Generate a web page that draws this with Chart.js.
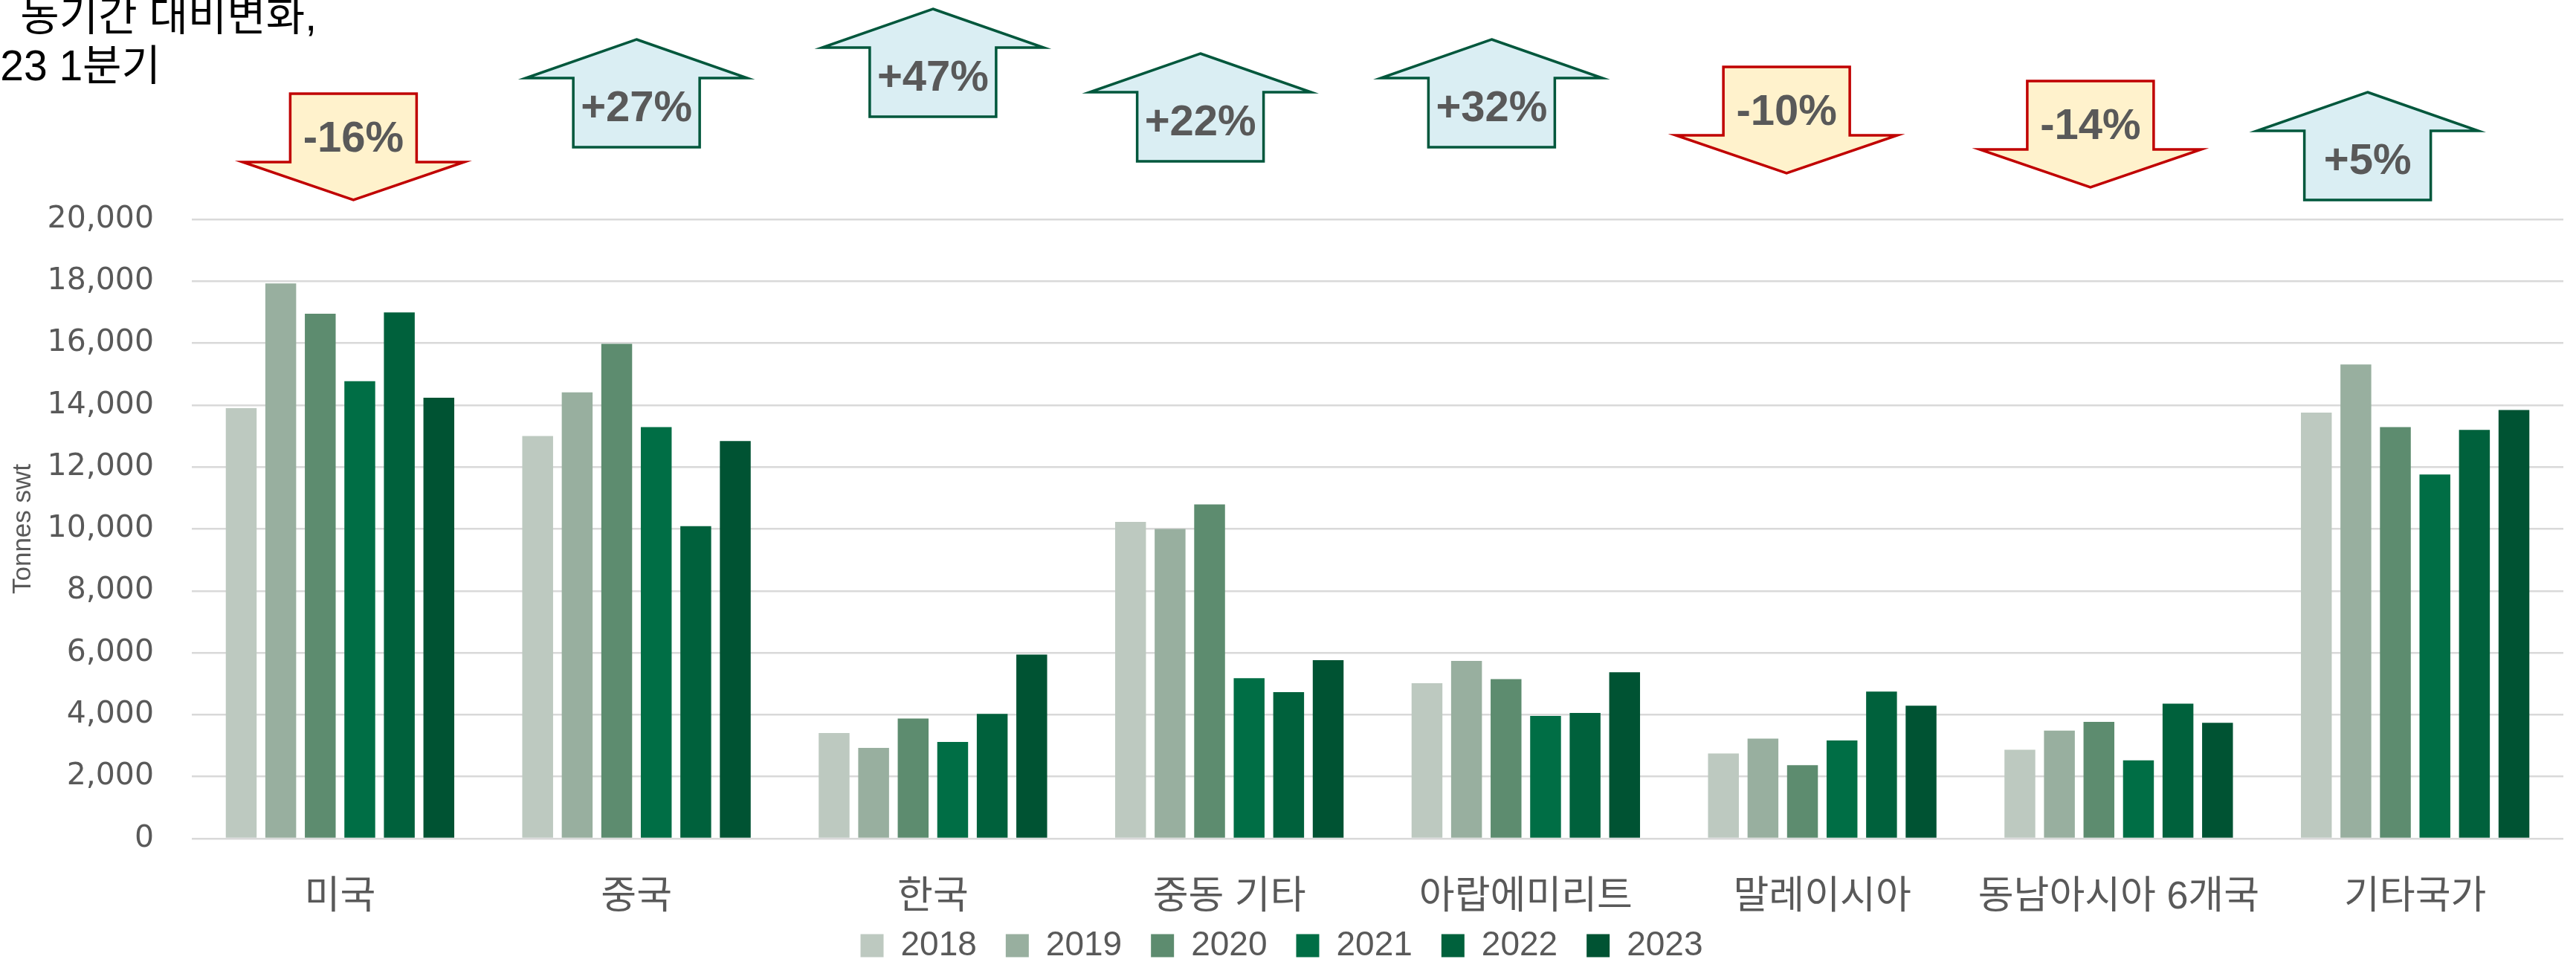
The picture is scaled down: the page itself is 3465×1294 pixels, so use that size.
<!DOCTYPE html>
<html>
<head>
<meta charset="utf-8">
<script src="https://cdn.jsdelivr.net/npm/chart.js@4"></script>
<style>
  html, body { margin: 0; padding: 0; background: #fff; }
  #wrap { width: 3465px; height: 1294px; position: relative; }
</style>
</head>
<body>
<div id="wrap"><canvas id="chart"></canvas></div>
<script>
// 국가별 수치 (Tonnes swt)
const categories = ['미국', '중국', '한국', '중동 기타', '아랍에미리트', '말레이시아', '동남아시아 6개국', '기타국가'];
const years = ['2018', '2019', '2020', '2021', '2022', '2023'];
const v2018 = [13900, 13000, 3410, 10230, 5020, 2750, 2870, 13760];
const v2019 = [17930, 14410, 2930, 10000, 5740, 3230, 3490, 15310];
const v2020 = [16950, 15980, 3880, 10790, 5150, 2370, 3770, 13290];
const v2021 = [14770, 13290, 3120, 5180, 3960, 3170, 2530, 11760];
const v2022 = [16990, 10090, 4030, 4730, 4060, 4750, 4360, 13200];
const v2023 = [14240, 12840, 5940, 5760, 5370, 4290, 3740, 13840];
// 동기간 대비변화 (화살표 라벨)
const yoyLabels = ['-16%', '+27%', '+47%', '+22%', '+32%', '-10%', '-14%', '+5%'];

// 스타일 / 위치
const seriesColors = ['#bdc9c0', '#98af9f', '#5d8c6f', '#006e45', '#00613c', '#005333'];
const arrowPos = [
    { dx: 18, y: 126 }, { dx: 0, y: 53 }, { dx: 0, y: 12 }, { dx: -39, y: 72 },
    { dx: -46, y: 53 }, { dx: -48, y: 90 }, { dx: -38, y: 109 }, { dx: -64, y: 124 }
];
const GRAY = '#595959';
const KFONT = '"Liberation Sans", "Noto Sans CJK KR", sans-serif';

const seriesValues = [v2018, v2019, v2020, v2021, v2022, v2023];

// 화살표 + 제목 그리기
const overlayPlugin = {
    id: 'overlay',
    afterLayout: function(chart) {
        // 범례를 x축 라벨 바로 아래로 당김
        chart.legend.top = chart.chartArea.bottom + 82;
    },
    afterDraw: function(chart) {
        const ctx = chart.ctx;
        const xs = chart.scales.x;
        ctx.save();

        // 좌상단 제목 (왼쪽 잘림)
        ctx.fillStyle = '#000';
        ctx.font = '57px ' + KFONT;
        ctx.textAlign = 'right';
        ctx.textBaseline = 'alphabetic';
        ctx.fillText('동기간 대비변화,', 426, 41);
        ctx.fillText('2023 1분기', 216, 108);

        yoyLabels.forEach(function(label, i) {
            const cx = xs.getPixelForValue(i) + arrowPos[i].dx;
            const y = arrowPos[i].y;
            const down = label.charAt(0) === '-';
            ctx.beginPath();
            if (down) {
                ctx.moveTo(cx - 85, y);
                ctx.lineTo(cx + 85, y);
                ctx.lineTo(cx + 85, y + 92);
                ctx.lineTo(cx + 149, y + 92);
                ctx.lineTo(cx, y + 143);
                ctx.lineTo(cx - 149, y + 92);
                ctx.lineTo(cx - 85, y + 92);
            } else {
                ctx.moveTo(cx, y);
                ctx.lineTo(cx + 149, y + 52);
                ctx.lineTo(cx + 85, y + 52);
                ctx.lineTo(cx + 85, y + 145);
                ctx.lineTo(cx - 85, y + 145);
                ctx.lineTo(cx - 85, y + 52);
                ctx.lineTo(cx - 149, y + 52);
            }
            ctx.closePath();
            ctx.fillStyle = down ? '#fff2cc' : '#daeef3';
            ctx.fill();
            ctx.lineWidth = 3.5;
            ctx.lineJoin = 'miter';
            ctx.strokeStyle = down ? '#c00000' : '#00573c';
            ctx.stroke();

            const ty = down ? y + 57 : y + 89;
            ctx.fillStyle = GRAY;
            ctx.font = 'bold 58px "Liberation Sans Narrow", "Liberation Sans", sans-serif';
            ctx.textAlign = 'center';
            ctx.textBaseline = 'alphabetic';
            ctx.fillText(label, cx, ty + 58 * 0.358);
        });
        ctx.restore();
    }
};

const datasets = years.map(function(yr, k) {
    return {
        label: yr,
        data: seriesValues[k],
        backgroundColor: seriesColors[k],
        borderWidth: 0,
        categoryPercentage: 0.8,
        barPercentage: 0.78
    };
});

const ctx = document.getElementById('chart').getContext('2d');
new Chart(ctx, {
    type: 'bar',
    data: { labels: categories, datasets: datasets },
    options: {
        responsive: true,
        maintainAspectRatio: false,
        animation: false,
        devicePixelRatio: 1,
        layout: { padding: { top: 295, left: 0, right: 17, bottom: 0 } },
        plugins: {
            legend: {
                position: 'bottom',
                maxHeight: 66,
                labels: {
                    boxWidth: 31,
                    boxHeight: 31,
                    padding: 39,
                    color: GRAY,
                    font: { family: KFONT, size: 46 }
                }
            },
            tooltip: { enabled: false }
        },
        scales: {
            x: {
                grid: { display: false },
                border: { display: false },
                ticks: {
                    color: GRAY,
                    padding: 46,
                    font: { family: KFONT, size: 52, lineHeight: 1.0 },
                    maxRotation: 0,
                    autoSkip: false
                },
                afterFit: function(scale) { scale.height = 100; }
            },
            y: {
                min: 0,
                max: 20000,
                grid: { color: '#d9d9d9', lineWidth: 2.5, drawTicks: false },
                border: { display: false },
                ticks: {
                    stepSize: 2000,
                    color: GRAY,
                    padding: 51,
                    font: { family: '"DejaVu Sans", sans-serif', size: 41 },
                    callback: function(v) { return v.toLocaleString('en-US'); }
                },
                title: {
                    display: true,
                    text: 'Tonnes swt',
                    color: GRAY,
                    font: { family: '"Liberation Sans Narrow", "Liberation Sans", sans-serif', size: 35 },
                    padding: { top: 10, bottom: 0 }
                },
                afterFit: function(scale) { scale.width = 258; }
            }
        }
    },
    plugins: [overlayPlugin]
});
</script>
</body>
</html>
